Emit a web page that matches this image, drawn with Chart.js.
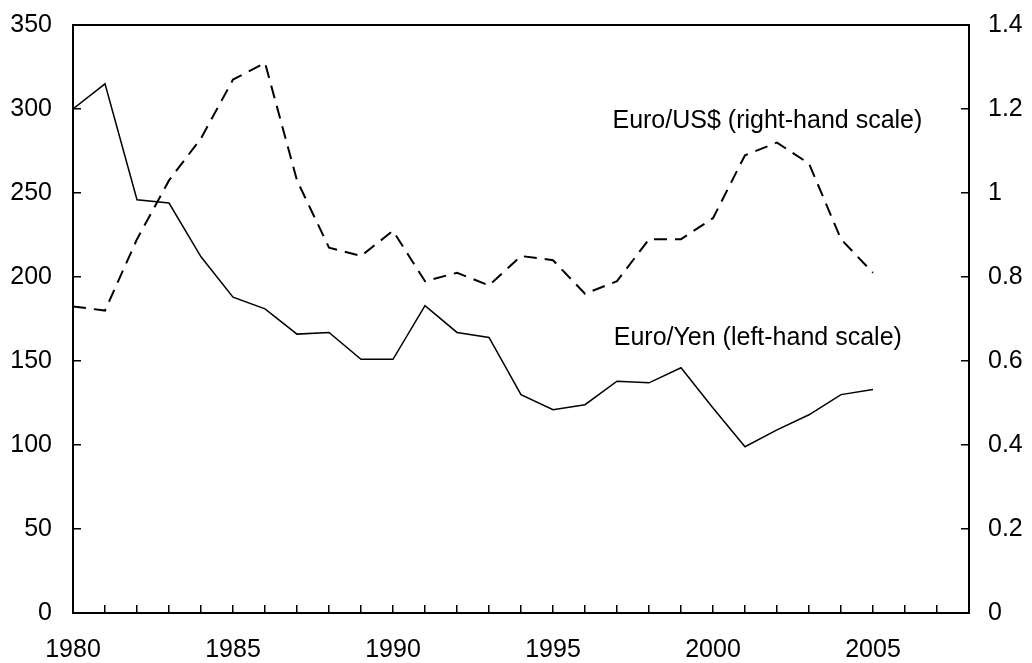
<!DOCTYPE html>
<html>
<head>
<meta charset="utf-8">
<script src="https://cdn.jsdelivr.net/npm/chart.js@4"></script>
<style>
  html, body { margin: 0; padding: 0; background: #fff; }
  #wrap { width: 1032px; height: 663px; position: relative; }
</style>
</head>
<body>
<div id="wrap"><canvas id="fxChart"></canvas></div>
<script>
// years on the x axis
var years = [1980, 1981, 1982, 1983, 1984, 1985, 1986, 1987, 1988, 1989,
             1990, 1991, 1992, 1993, 1994, 1995, 1996, 1997, 1998, 1999,
             2000, 2001, 2002, 2003, 2004, 2005];

// Euro/Yen, left-hand scale
var euroYen = [300, 315, 246, 244, 212, 188, 181, 166, 167, 151,
               151, 183, 167, 164, 130, 121, 124, 138, 137, 146,
               122, 99, 109, 118, 130, 133];

// Euro/US$, right-hand scale
var euroUsd = [0.73, 0.72, 0.89, 1.03, 1.13, 1.27, 1.31, 1.03, 0.87, 0.85,
               0.91, 0.79, 0.81, 0.78, 0.85, 0.84, 0.76, 0.79, 0.89, 0.89,
               0.94, 1.09, 1.12, 1.07, 0.89, 0.81];

var yearLabels = [1980, 1985, 1990, 1995, 2000, 2005];
var seriesNames = ['Euro/Yen (left-hand scale)', 'Euro/US$ (right-hand scale)'];

var font = { family: "'Liberation Sans', Arial, sans-serif", size: 25 };

function toPoints(vals) {
  return years.map(function (yr, i) { return { x: yr, y: vals[i] }; });
}

// fixed axis width, and no extra label padding above/below the plot
function fixY(w) {
  return function (s) {
    s.width = w;
    s.paddingTop = 0;
    s.paddingBottom = 0;
  };
}

// in-plot series labels
var seriesText = {
  id: 'seriesText',
  afterDatasetsDraw: function (chart) {
    var c = chart.ctx, x = chart.scales.x, y = chart.scales.y;
    c.save();
    c.font = font.size + 'px ' + font.family;
    c.fillStyle = '#000';
    c.textAlign = 'center';
    c.textBaseline = 'middle';
    c.fillText(seriesNames[1], x.getPixelForValue(2001.7), y.getPixelForValue(293));
    c.fillText(seriesNames[0], x.getPixelForValue(2001.4), y.getPixelForValue(163.5));
    c.restore();
  }
};

var ctx = document.getElementById('fxChart').getContext('2d');

var fxChart = new Chart(ctx, {
  type: 'line',
  data: {
    datasets: [
      {
        label: seriesNames[0],
        data: toPoints(euroYen),
        yAxisID: 'y',
        borderColor: '#000',
        borderWidth: 1.5,
        pointRadius: 0,
        tension: 0
      },
      {
        label: seriesNames[1],
        data: toPoints(euroUsd),
        yAxisID: 'y1',
        borderColor: '#000',
        borderWidth: 2,
        borderDash: [13, 8],
        pointRadius: 0,
        tension: 0
      }
    ]
  },
  options: {
    responsive: true,
    maintainAspectRatio: false,
    animation: false,
    layout: { padding: { top: 25, left: 0, right: 0, bottom: 0 } },
    plugins: { legend: { display: false }, tooltip: { enabled: false } },
    scales: {
      x: {
        type: 'linear',
        position: 'bottom',
        min: 1980,
        max: 2008,
        afterFit: function (s) { s.height = 50; },
        grid: { drawOnChartArea: false, tickLength: -8, color: '#000', lineWidth: 1.5 },
        border: { color: '#000', width: 2 },
        ticks: {
          stepSize: 1,
          autoSkip: false,
          maxRotation: 0,
          padding: 30,
          color: '#000',
          font: font,
          callback: function (v) { return yearLabels.indexOf(v) >= 0 ? String(v) : ''; }
        }
      },
      x2: {
        type: 'linear',
        position: 'top',
        min: 1980,
        max: 2008,
        afterFit: function (s) { s.height = 0; },
        grid: { drawOnChartArea: false, drawTicks: false },
        border: { color: '#000', width: 2 },
        ticks: { display: false }
      },
      y: {
        position: 'left',
        min: 0,
        max: 350,
        afterFit: fixY(73),
        grid: { drawOnChartArea: false, tickLength: -8, color: '#000', lineWidth: 1.5 },
        border: { color: '#000', width: 2 },
        ticks: { stepSize: 50, padding: 29, color: '#000', font: font }
      },
      y1: {
        position: 'right',
        min: 0,
        max: 1.4,
        afterFit: fixY(63),
        grid: { drawOnChartArea: false, tickLength: -8, color: '#000', lineWidth: 1.5 },
        border: { color: '#000', width: 2 },
        ticks: {
          stepSize: 0.2,
          padding: 27,
          color: '#000',
          font: font,
          callback: function (v) { return String(Number(v.toFixed(1))); }
        }
      }
    }
  },
  plugins: [seriesText]
});
</script>
</body>
</html>
